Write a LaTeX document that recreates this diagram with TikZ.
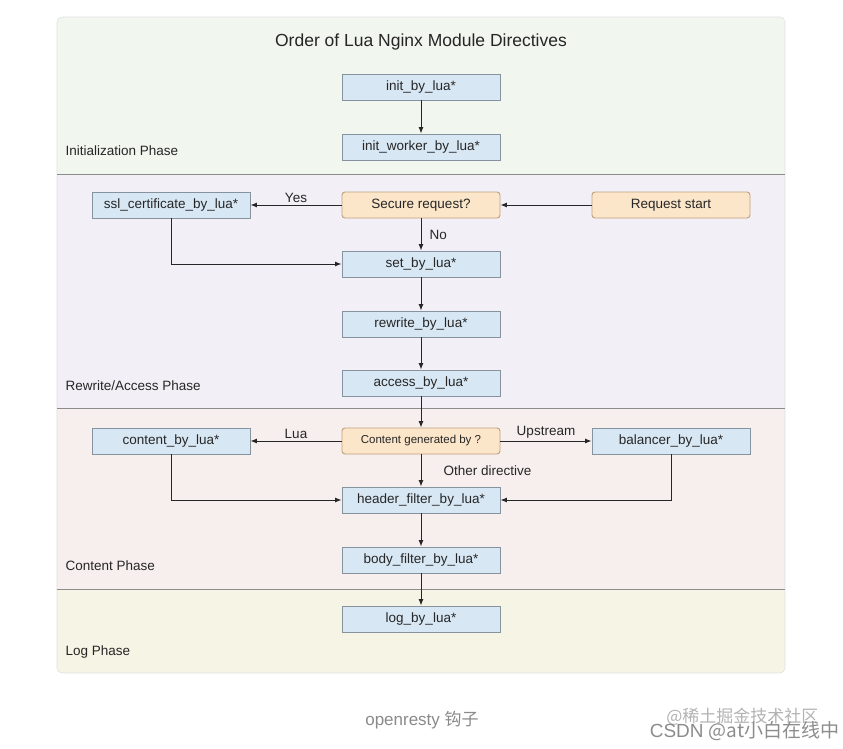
\documentclass[tikz,border=0pt]{standalone}
\usepackage{fontspec}
\setmainfont{Liberation Sans}
\newfontfamily\cjkfont{Noto Sans CJK SC}
\usetikzlibrary{arrows.meta,positioning}
\definecolor{phaseinit}{HTML}{F1F6EF}
\definecolor{phaserewrite}{HTML}{F2EFF7}
\definecolor{phasecontent}{HTML}{F6EFEE}
\definecolor{phaselog}{HTML}{F6F4E5}
\definecolor{boxblue}{HTML}{D8E7F4}
\definecolor{boxorange}{HTML}{FCE6CA}
\definecolor{boxline}{HTML}{86929E}
\definecolor{orangeline}{HTML}{C0A07C}
\definecolor{sepgray}{HTML}{8C8C8C}
\definecolor{captiongray}{HTML}{8A8A8A}

\tikzset{
  directive/.style={draw=boxline,fill=boxblue,line width=.9pt,
    minimum width=158,minimum height=26,inner sep=0pt,
    font=\fontsize{13.5}{16}\selectfont,text=black!85},
  decision/.style={directive,draw=orangeline,fill=boxorange,rounded corners=3pt},
  flow/.style={-{Latex[length=6.5pt,width=5pt]},line width=1pt,black!85},
  edgelabel/.style={font=\fontsize{13.5}{16}\selectfont,inner sep=2pt,text=black!85},
  phaselabel/.style={anchor=west,font=\fontsize{13.5}{16}\selectfont,text=black!85}
}

\begin{document}
\begin{tikzpicture}[x=1pt,y=-1pt]
    \path[use as bounding box] (0,0) rectangle (843,749);

    % Four coloured phase bands inside one rounded panel.
    \begin{scope}
      \clip[rounded corners=5pt] (57,17) rectangle (785,673);
      \fill[phaseinit] (57,17) rectangle (785,174);
      \fill[phaserewrite] (57,174) rectangle (785,408);
      \fill[phasecontent] (57,408) rectangle (785,589);
      \fill[phaselog] (57,589) rectangle (785,673);
    \end{scope}
    \draw[black!12,line width=.6pt,rounded corners=5pt] (57,17) rectangle (785,673);
    \foreach \y in {174,408,589}
      \draw[sepgray,line width=.9pt] (57,\y) -- (785,\y);

    \node[font=\fontsize{17.5}{21}\selectfont,text=black!85] (title) at (421,42)
      {Order of Lua Nginx Module Directives};

    \node[phaselabel] (initlbl) at (62,151) {Initialization Phase};
    \node[phaselabel] (rewritelbl) at (62,386) {Rewrite/Access Phase};
    \node[phaselabel] (contentlbl) at (62,566) {Content Phase};
    \node[phaselabel] (loglbl) at (62,652) {Log Phase};

    % Directive boxes and decision points.
    \node[directive] (init) at (421,87) {init\_by\_lua*};
    \node[directive] (initw) at (421,147) {init\_worker\_by\_lua*};
    \node[directive] (ssl) at (171,205) {ssl\_certificate\_by\_lua*};
    \node[decision] (secure) at (421,205) {Secure request?};
    \node[decision] (start) at (671,205) {Request start};
    \node[directive] (set) at (421,264) {set\_by\_lua*};
    \node[directive] (rewrite) at (421,324) {rewrite\_by\_lua*};
    \node[directive] (access) at (421,383) {access\_by\_lua*};
    \node[directive] (content) at (171,441) {content\_by\_lua*};
    \node[decision,font=\fontsize{11.5}{14}\selectfont] (cgen) at (421,441)
      {Content generated by ?};
    \node[directive] (balancer) at (671,441) {balancer\_by\_lua*};
    \node[directive] (header) at (421,500) {header\_filter\_by\_lua*};
    \node[directive] (body) at (421,560) {body\_filter\_by\_lua*};
    \node[directive] (log) at (421,619) {log\_by\_lua*};

    % Connectors.
    \draw[flow] (init) -- (initw);
    \draw[flow] (start) -- (secure);
    \draw[flow] (secure) -- node[edgelabel,above] {Yes} (ssl);
    \draw[flow] (secure) -- node[edgelabel,right,xshift=6pt] {No} (set);
    \draw[flow] (ssl.south) |- (set.west);
    \draw[flow] (set) -- (rewrite);
    \draw[flow] (rewrite) -- (access);
    \draw[flow] (access) -- (cgen);
    \draw[flow] (cgen) -- node[edgelabel,above] {Lua} (content);
    \draw[flow] (cgen) -- node[edgelabel,above] {Upstream} (balancer);
    \draw[flow] (cgen) -- node[edgelabel,right,xshift=20pt] {Other directive} (header);
    \draw[flow] (content.south) |- (header.west);
    \draw[flow] (balancer.south) |- (header.east);
    \draw[flow] (header) -- (body);
    \draw[flow] (body) -- (log);

    % Caption and watermarks below the panel.
    \node[font=\fontsize{17}{20}\selectfont,text=captiongray] (caption) at (422,720)
      {openresty {\cjkfont 钩子}};
    \node[anchor=east,font=\fontsize{17}{20}\selectfont,text=black!30] (mark1) at (822,717)
      {\cjkfont @稀土掘金技术社区};
    \node[anchor=east,font=\fontsize{19}{22}\selectfont,text=black!45] (mark2) at (843,731)
      {CSDN \cjkfont @at小白在线中};
\end{tikzpicture}
\end{document}
